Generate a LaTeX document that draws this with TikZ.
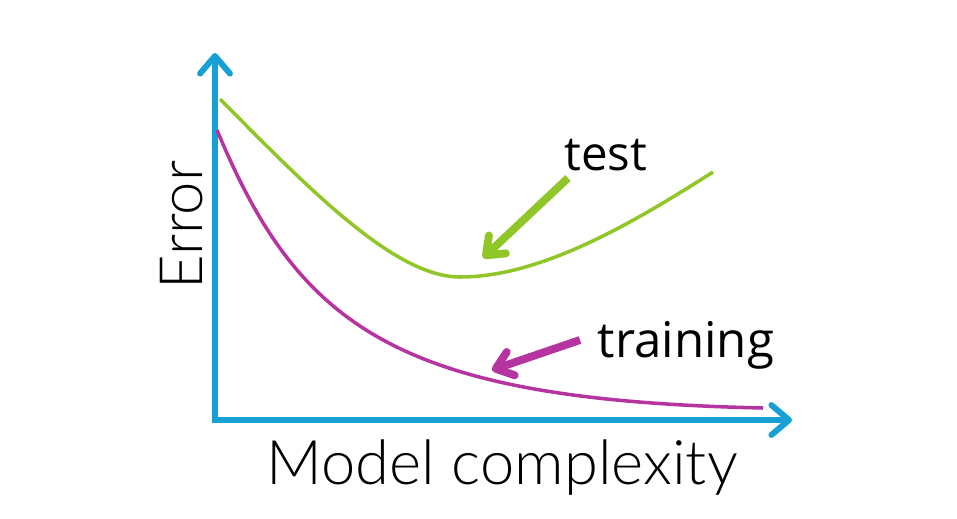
\documentclass[tikz,border=0pt]{standalone}
\usepackage{fontspec}
\setmainfont{Lato}[UprightFont={* Light}]
\newfontfamily\labelfont{Open Sans}
\usetikzlibrary{arrows.meta}
\definecolor{axisblue}{RGB}{22,160,212}
\definecolor{testgreen}{RGB}{144,198,40}
\definecolor{trainpink}{RGB}{182,52,160}
\begin{document}
\begin{tikzpicture}[x=0.02cm, y=-0.02cm,
    axis/.style={line width=3.4pt, axisblue, line join=miter,
        {Straight Barb[length=10pt, width=17pt, round]}-{Straight Barb[length=10pt, width=17pt, round]}},
    curve/.style={line width=2pt},
    pointer/.style={line width=4.5pt, -{Straight Barb[length=9pt, width=14pt, round]}}]
    \useasboundingbox (0,0) rectangle (957,518);
    \coordinate (ytip) at (215,53);
    \coordinate (xtip) at (792,420);
    \draw [axis] (ytip) |- (xtip);
    \draw [curve, testgreen] (220,99) .. controls (310,190) and (395,277) .. (460,277)
        .. controls (540,277) and (630,225) .. (713,172);
    \draw [curve, trainpink] (217,130) .. controls (300,330) and (400,400) .. (763,408);
    \node (xlabel) at (502,468) {\fontsize{35}{40}\selectfont Model complexity};
    \node [rotate=90] (ylabel) at (182,225) {\fontsize{34}{40}\selectfont Error};
    \node (test) at (606,155) {\labelfont\fontsize{27}{30}\selectfont test};
    \node (training) at (686,345) {\labelfont\fontsize{28}{30}\selectfont training};
    \coordinate (testfrom) at (568,178);
    \coordinate (testto) at (483,258);
    \coordinate (trainfrom) at (580,340);
    \coordinate (trainto) at (492,370);
    \draw [pointer, testgreen] (testfrom) -- (testto);
    \draw [pointer, trainpink] (trainfrom) -- (trainto);
\end{tikzpicture}
\end{document}
